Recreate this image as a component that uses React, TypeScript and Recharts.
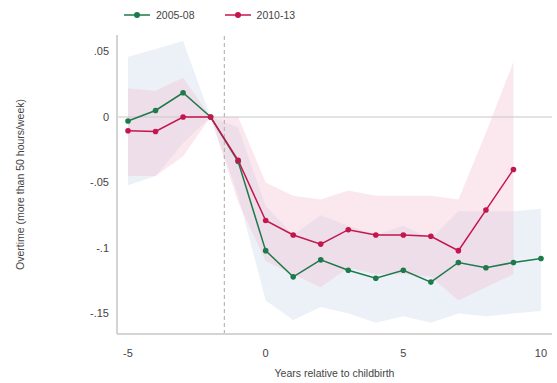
import React from "react";
import {
  ComposedChart,
  Line,
  Area,
  XAxis,
  YAxis,
  ReferenceLine,
  Legend,
} from "recharts";

const years = [-5, -4, -3, -2, -1, 0, 1, 2, 3, 4, 5, 6, 7, 8, 9, 10];
const series0508 = [-0.003, 0.005, 0.0185, 0, -0.034, -0.102, -0.122, -0.109, -0.117, -0.123, -0.117, -0.126, -0.111, -0.115, -0.111, -0.108];
const series1013 = [-0.0105, -0.011, 0, 0, -0.033, -0.079, -0.09, -0.097, -0.086, -0.09, -0.09, -0.091, -0.102, -0.071, -0.04, null];
const low0508 = [-0.052, -0.045, -0.02, 0, -0.06, -0.14, -0.155, -0.145, -0.15, -0.157, -0.152, -0.157, -0.15, -0.152, -0.15, -0.148];
const high0508 = [0.046, 0.052, 0.058, 0, -0.008, -0.068, -0.09, -0.075, -0.083, -0.09, -0.083, -0.093, -0.072, -0.072, -0.072, -0.07];
const low1013 = [-0.045, -0.045, -0.03, 0, -0.065, -0.11, -0.12, -0.13, -0.115, -0.12, -0.12, -0.122, -0.14, -0.13, -0.12, null];
const high1013 = [0.022, 0.02, 0.03, 0, 0, -0.05, -0.06, -0.063, -0.056, -0.06, -0.06, -0.06, -0.063, -0.012, 0.042, null];
const yTicks = [-0.15, -0.1, -0.05, 0, 0.05];
const xTicks = [-5, 0, 5, 10];
const legendItems = [
  { label: "2005-08", color: "#1e7a4a" },
  { label: "2010-13", color: "#c4164c" },
];

const GREEN = "#1e7a4a";
const RED = "#c4164c";

const data = years.map((yr, i) => ({
  year: yr,
  g: series0508[i],
  r: series1013[i],
  gBand: [low0508[i], high0508[i]],
  rBand: low1013[i] === null ? null : [low1013[i], high1013[i]],
}));

const fmtY = (v: number) => {
  if (v === 0) return "0";
  const s = String(Math.round(v * 100) / 100);
  return s.replace("0.", ".");
};

const LegendContent = () => (
  <div style={{ display: "flex", gap: 30, fontFamily: "Liberation Sans, Arial, sans-serif", fontSize: 10.5, color: "#444" }}>
    {legendItems.map((it) => (
      <div key={it.label} style={{ display: "flex", alignItems: "center" }}>
        <svg width={26} height={10} style={{ marginRight: 6 }}>
          <line x1={0} y1={5} x2={26} y2={5} stroke={it.color} strokeWidth={1.5} />
          <circle cx={13} cy={5} r={3} fill={it.color} />
        </svg>
        <span>{it.label}</span>
      </div>
    ))}
  </div>
);

export default function App() {
  return (
    <div style={{ position: "absolute", left: 0, top: 0, width: 557, height: 383, background: "#fff" }}>
      <ComposedChart
        width={557}
        height={383}
        data={data}
        margin={{ top: 19, right: 5, bottom: 0, left: 0 }}
        style={{ fontFamily: "Liberation Sans, Arial, sans-serif" }}
      >
        <Legend
          verticalAlign="top"
          align="left"
          content={<LegendContent />}
          wrapperStyle={{ position: "absolute", top: 9, left: 124, width: 300, height: 16 }}
        />
        <XAxis
          dataKey="year"
          type="number"
          domain={[-5.4, 10.4]}
          ticks={xTicks}
          allowDataOverflow
          tickLine={false}
          axisLine={{ stroke: "#d4d4d4", strokeWidth: 2 }}
          tick={{ fontSize: 11, fill: "#444" }}
          tickMargin={9}
          height={49}
          label={{ value: "Years relative to childbirth", position: "insideBottom", offset: 6, fontSize: 10.5, fill: "#444" }}
        />
        <YAxis
          type="number"
          domain={[-0.1656, 0.0626]}
          ticks={yTicks}
          allowDataOverflow
          tickFormatter={fmtY}
          tickLine={false}
          axisLine={{ stroke: "#d4d4d4", strokeWidth: 2 }}
          tick={{ fontSize: 11, fill: "#444" }}
          width={117}
          label={{
            value: "Overtime (more than 50 hours/week)",
            angle: -90,
            position: "insideLeft",
            offset: 20,
            fontSize: 10.5,
            fill: "#444",
            style: { textAnchor: "middle" },
          }}
        />
        <ReferenceLine y={0} stroke="#c8c8c8" strokeWidth={1.2} />
        <Area
          dataKey="gBand"
          type="linear"
          stroke="none"
          fill="#c9d7ec"
          fillOpacity={0.35}
          isAnimationActive={false}
          activeDot={false}
        />
        <Area
          dataKey="rBand"
          type="linear"
          stroke="none"
          fill="#f4b9ca"
          fillOpacity={0.32}
          isAnimationActive={false}
          activeDot={false}
        />
        <ReferenceLine x={-1.5} stroke="#b8b8b8" strokeDasharray="4 3" strokeWidth={1.2} />
        <Line
          dataKey="g"
          type="linear"
          stroke={GREEN}
          strokeWidth={1.5}
          dot={{ r: 2.8, fill: GREEN, stroke: GREEN, strokeWidth: 0 }}
          isAnimationActive={false}
        />
        <Line
          dataKey="r"
          type="linear"
          stroke={RED}
          strokeWidth={1.5}
          dot={{ r: 2.8, fill: RED, stroke: RED, strokeWidth: 0 }}
          isAnimationActive={false}
        />
      </ComposedChart>
    </div>
  );
}
